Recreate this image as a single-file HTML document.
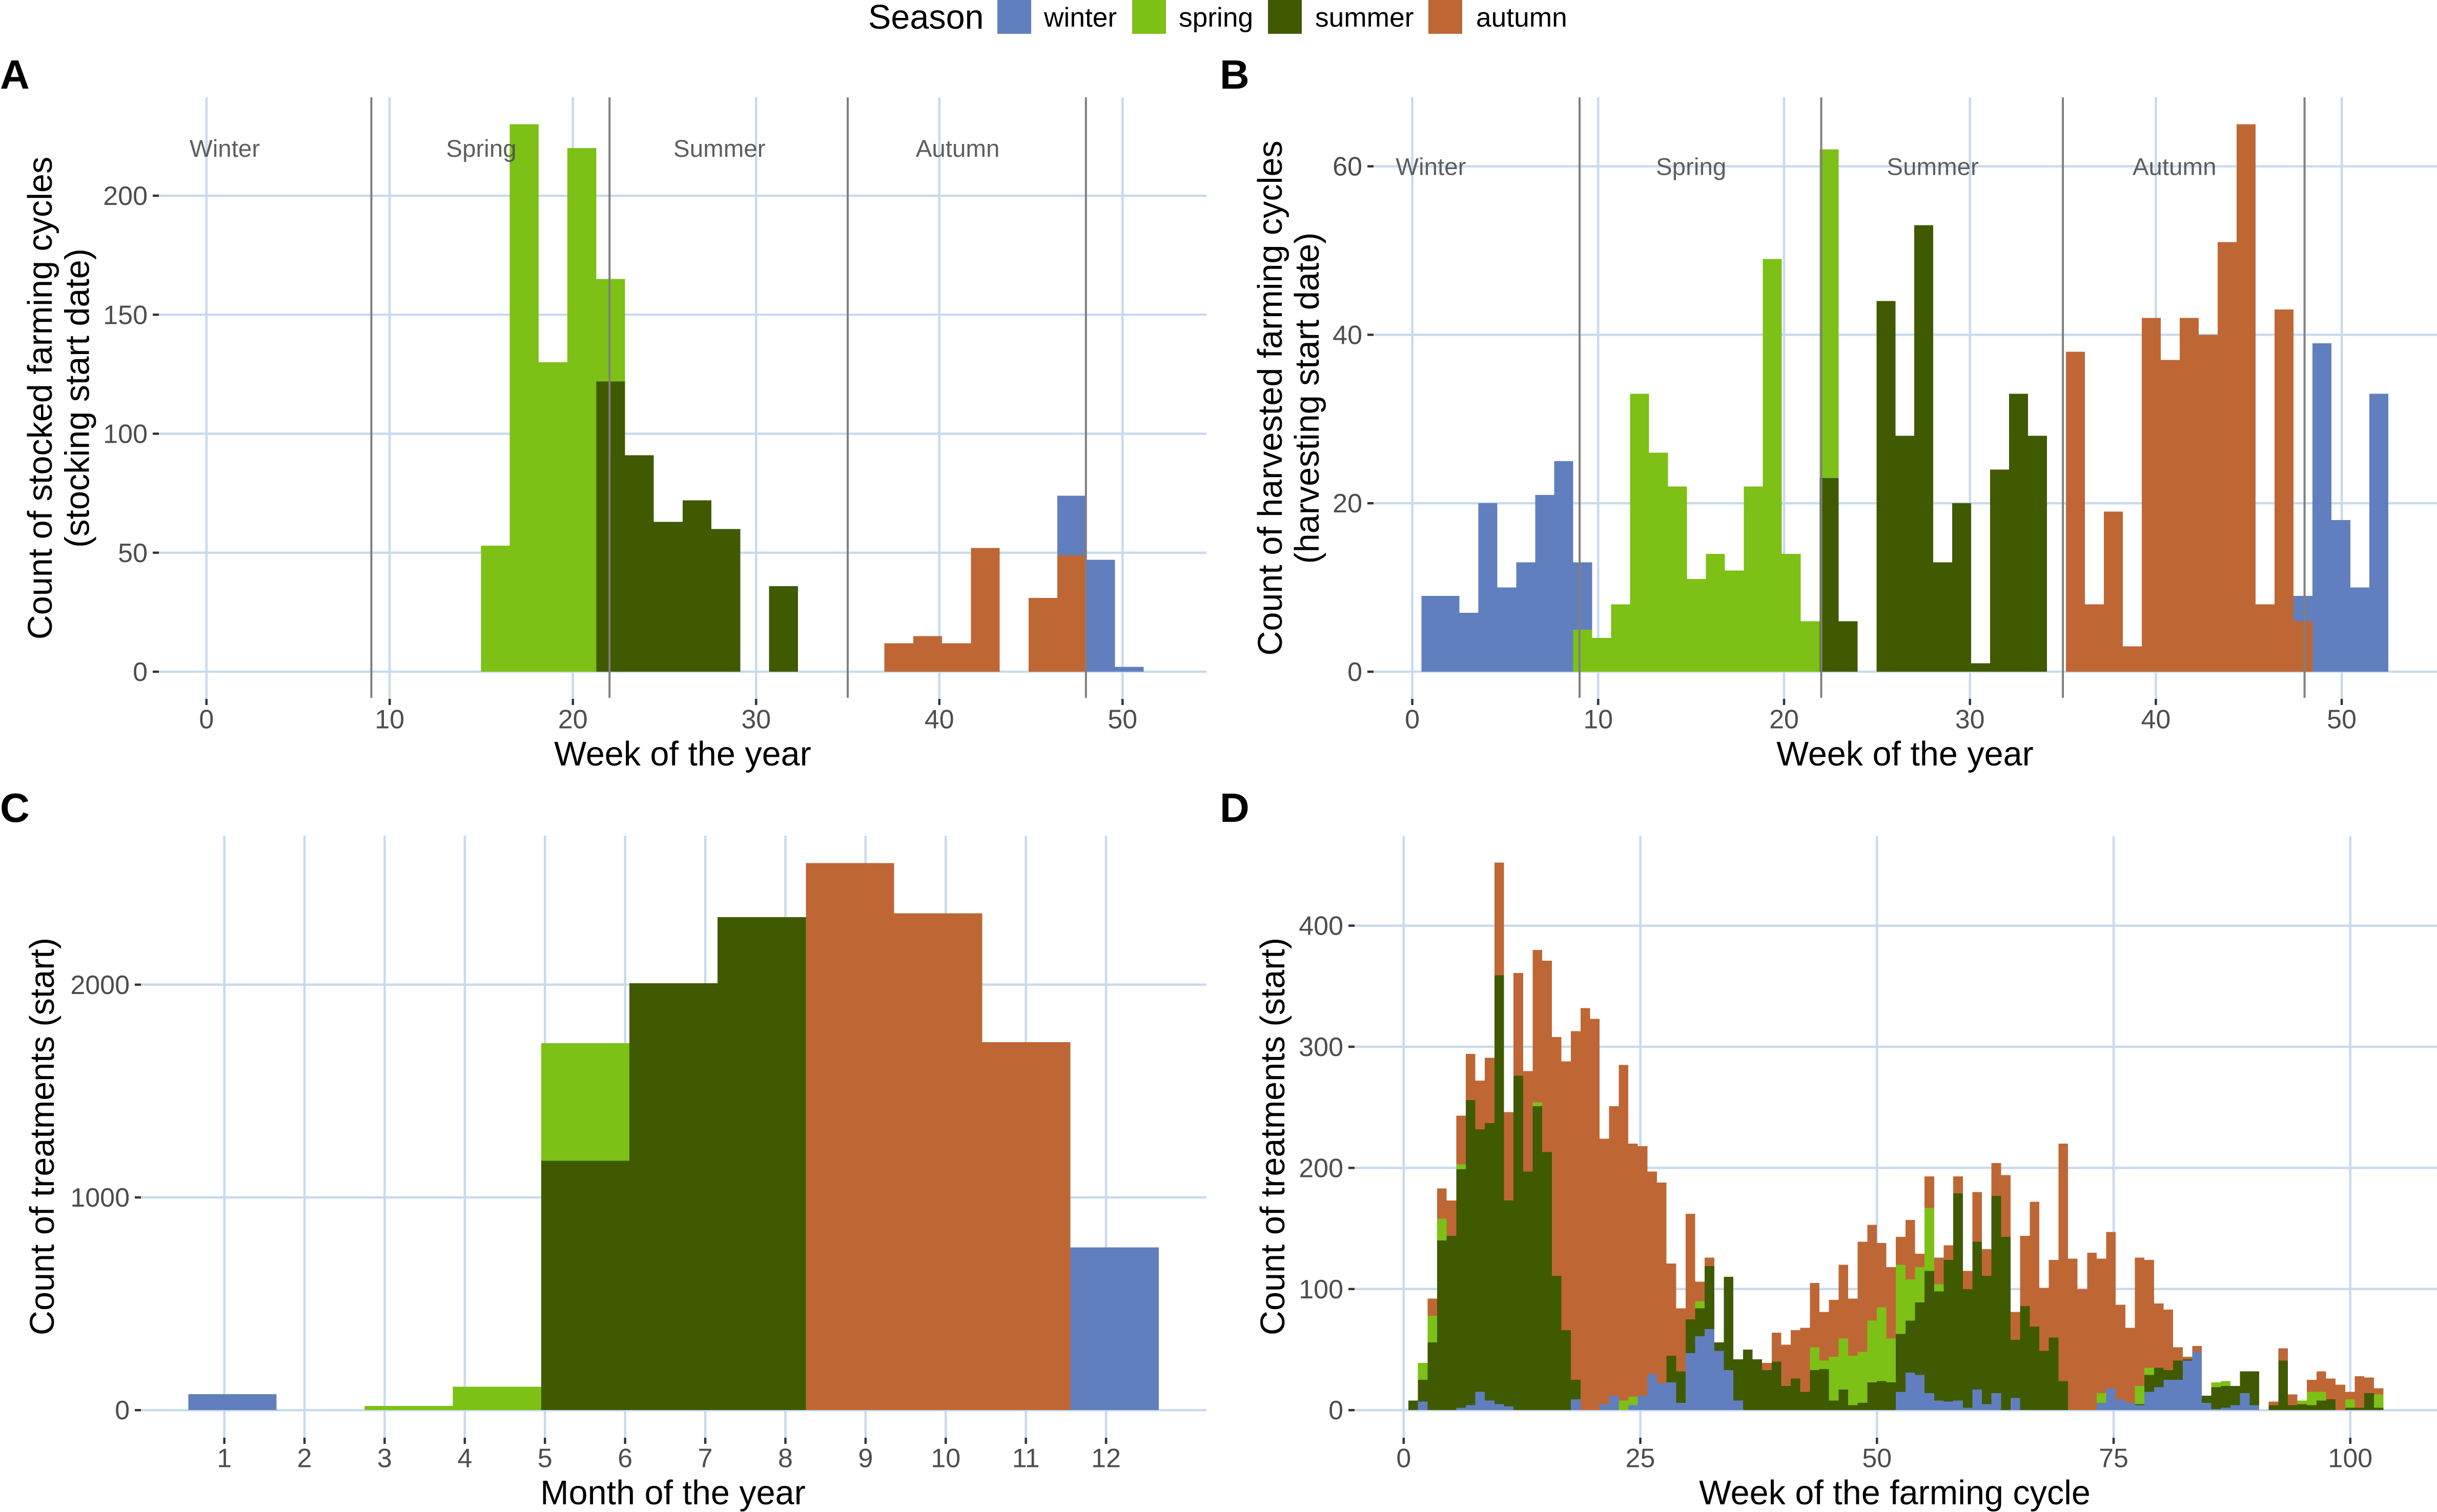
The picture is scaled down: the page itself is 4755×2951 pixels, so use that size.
<!DOCTYPE html>
<html lang="en">
<head>
<meta charset="utf-8">
<title>Farming cycles and treatments by season</title>
<style>
html,body{margin:0;padding:0;background:#fff;}
svg{display:block;font-family:"Liberation Sans",Arial,sans-serif;}
</style>
</head>
<body>
<svg id="chart" xmlns="http://www.w3.org/2000/svg" width="4755" height="2951" viewBox="0 0 4755 2951">
  <rect x="0" y="0" width="4755" height="2951" fill="#ffffff"/>
  <g id="legend">
    <text x="1694" y="56" font-size="66.5" fill="#000">Season</text>
    <rect x="1946" y="0" width="66" height="66" fill="#617FBE"/>
    <text x="2037" y="52" font-size="53.3" fill="#000">winter</text>
    <rect x="2209" y="0" width="66" height="66" fill="#7DC016"/>
    <text x="2300" y="52" font-size="53.3" fill="#000">spring</text>
    <rect x="2474" y="0" width="66" height="66" fill="#405A02"/>
    <text x="2566" y="52" font-size="53.3" fill="#000">summer</text>
    <rect x="2787" y="0" width="66" height="66" fill="#BE6735"/>
    <text x="2880" y="52" font-size="53.3" fill="#000">autumn</text>
  </g>
  <text x="0" y="173" font-size="80" font-weight="700">A</text>
  <text x="2380" y="173" font-size="80" font-weight="700">B</text>
  <text x="0" y="1604" font-size="80" font-weight="700">C</text>
  <text x="2380" y="1604" font-size="80" font-weight="700">D</text>

  <g id="panel-a"></g>
  <g id="panel-b"></g>
  <g id="panel-c"></g>
  <g id="panel-d"></g>

  <text x="1332" y="1494" font-size="66.5" text-anchor="middle">Week of the year</text>
  <text transform="translate(101,777) rotate(-90)" font-size="66.5" text-anchor="middle">Count of stocked farming cycles</text>
  <text transform="translate(173.5,777) rotate(-90)" font-size="66.5" text-anchor="middle">(stocking start date)</text>

  <text x="3717" y="1494" font-size="66.5" text-anchor="middle">Week of the year</text>
  <text transform="translate(2501,777) rotate(-90)" font-size="66.5" text-anchor="middle">Count of harvested farming cycles</text>
  <text transform="translate(2573,777) rotate(-90)" font-size="66.5" text-anchor="middle">(harvesting start date)</text>

  <text x="1313" y="2936" font-size="66.5" text-anchor="middle">Month of the year</text>
  <text transform="translate(105,2218) rotate(-90)" font-size="66.5" text-anchor="middle">Count of treatments (start)</text>

  <text x="3697" y="2936" font-size="66.5" text-anchor="middle">Week of the farming cycle</text>
  <text transform="translate(2506,2218) rotate(-90)" font-size="66.5" text-anchor="middle">Count of treatments (start)</text>
</svg>
<script>
// ---- Shared categories ----
const seasonLabels = ['Winter', 'Spring', 'Summer', 'Autumn'];
const seasonLabelWeeks = [1, 15, 28, 41];
const seasonBoundaryWeeks = [9, 22, 35, 48];

// ---- Panel A: stocked cycles per bin ----
const aXTicks = [0, 10, 20, 30, 40, 50];
const aYTicks = [0, 50, 100, 150, 200];
const aSpring = [53,230,130,220,43,0,0,0,0,0,0,0,0,0,0,0,0,0,0,0,0,0,0];
const aSummer = [0,0,0,0,122,91,63,72,60,0,36,0,0,0,0,0,0,0,0,0,0,0,0];
const aAutumn = [0,0,0,0,0,0,0,0,0,0,0,0,0,0,12,15,12,52,0,31,49,0,0];
const aWinter = [0,0,0,0,0,0,0,0,0,0,0,0,0,0,0,0,0,0,0,0,25,47,2];

// ---- Panel B: harvested cycles per bin ----
const bXTicks = [0, 10, 20, 30, 40, 50];
const bYTicks = [0, 20, 40, 60];
const bWinter = [9,9,7,20,10,13,21,25,8,0,0,0,0,0,0,0,0,0,0,0,0,0,0,0,0,0,0,0,0,0,0,0,0,0,0,0,0,0,0,0,0,0,0,0,0,0,3,39,18,10,33];
const bSpring = [0,0,0,0,0,0,0,0,5,4,8,33,26,22,11,14,12,22,49,14,6,39,0,0,0,0,0,0,0,0,0,0,0,0,0,0,0,0,0,0,0,0,0,0,0,0,0,0,0,0,0];
const bSummer = [0,0,0,0,0,0,0,0,0,0,0,0,0,0,0,0,0,0,0,0,0,23,6,0,44,28,53,13,20,1,24,33,28,0,0,0,0,0,0,0,0,0,0,0,0,0,0,0,0,0,0];
const bAutumn = [0,0,0,0,0,0,0,0,0,0,0,0,0,0,0,0,0,0,0,0,0,0,0,0,0,0,0,0,0,0,0,0,0,0,38,8,19,3,42,37,42,40,51,65,8,43,6,0,0,0,0];

// ---- Panel C: treatments per month bin ----
const cXTicks = [1,2,3,4,5,6,7,8,9,10,11,12];
const cYTicks = [0, 1000, 2000];
const cWinter = [75,0,0,0,0,0,0,0,0,0,765];
const cSpring = [0,0,20,110,553,0,0,0,0,0,0];
const cSummer = [0,0,0,0,1172,2007,2317,0,0,0,0];
const cAutumn = [0,0,0,0,0,0,0,2572,2336,1730,0];

// ---- Panel D: treatments per farming-cycle-week bin ----
const dXTicks = [0, 25, 50, 75, 100];
const dYTicks = [0, 100, 200, 300, 400];
const dWinter = [0,7,0,0,0,2,4,15,8,5,3,0,0,0,0,0,0,9,0,0,5,12,0,4,12,30,22,23,6,47,61,67,49,33,8,0,0,0,0,0,0,0,0,0,0,0,0,0,0,0,0,15,31,29,14,8,7,8,2,17,5,14,0,10,0,0,0,0,0,0,0,0,6,18,9,6,4,15,19,25,25,41,48,6,1,2,4,14,4,0,0,0,0,0,0,0,0,0,0,0,0,0];
const dSummer = [8,18,56,140,144,197,252,217,229,354,170,276,197,251,213,111,66,16,0,0,0,0,0,0,0,0,0,22,26,28,23,52,7,77,34,50,42,33,40,20,26,15,33,34,8,17,4,6,23,24,23,48,43,60,101,90,117,171,98,122,106,163,143,48,86,69,49,60,24,0,0,0,0,0,0,0,1,14,16,8,16,1,0,6,18,18,16,18,28,0,4,41,4,5,4,8,9,0,2,2,14,2];
const dSpring = [0,14,22,18,0,4,0,0,0,0,0,0,0,3,0,0,0,0,0,0,0,0,8,7,0,0,0,0,0,0,6,0,0,0,0,0,0,0,0,0,0,0,19,7,36,42,41,42,51,61,36,57,34,29,52,6,0,0,0,0,0,0,0,0,0,0,0,0,0,0,0,0,8,0,0,0,15,6,0,0,0,0,0,0,4,4,0,0,0,0,0,0,0,3,11,7,0,0,7,0,0,11];
const dAutumn = [0,0,14,25,29,40,38,40,54,93,73,85,83,126,158,197,222,288,332,323,219,239,277,209,206,167,166,76,52,87,16,7,0,0,0,0,0,6,24,34,40,53,53,40,47,61,47,91,79,53,59,23,49,11,26,22,12,14,15,41,22,27,51,23,58,103,52,64,196,125,100,130,111,129,78,62,106,89,53,50,11,2,5,0,0,0,0,0,0,0,3,10,9,0,10,17,17,21,6,26,13,5];

const COLORS = {winter:'#617FBE', spring:'#7DC016', summer:'#405A02', autumn:'#BE6735'};
const GRID = '#C8DAEE';
const SVGNS = 'http://www.w3.org/2000/svg';

function make(tag, attrs, parent, text) {
  const n = document.createElementNS(SVGNS, tag);
  for (const k in attrs) n.setAttribute(k, attrs[k]);
  if (text !== undefined) n.textContent = text;
  parent.appendChild(n);
  return n;
}

function drawPanel(cfg) {
  const root = document.getElementById(cfg.id);
  const x = v => cfg.x0 + v * cfg.xUnit;
  const y = v => cfg.y0 - v * cfg.yUnit;

  // gridlines
  cfg.yTicks.forEach(t => {
    const g = make('line', {x1: cfg.gridLeft, x2: cfg.right, y1: y(t), y2: y(t), stroke: GRID, 'stroke-width': 4.5}, root);
    
    
  });
  cfg.xTicks.forEach(t => {
    const g = make('line', {x1: x(t), x2: x(t), y1: cfg.top, y2: cfg.bottom, stroke: GRID, 'stroke-width': 4.5}, root);
    
    
  });

  // stacked bars
  const bins = cfg.series[0].values.length;
  for (let i = 0; i < bins; i++) {
    let base = 0;
    const left = x(cfg.binStart + i * cfg.binWidth);
    const right = x(cfg.binStart + (i + 1) * cfg.binWidth);
    cfg.series.forEach(s => {
      const v = s.values[i];
      if (v > 0) {
        const r = make('rect', {x: left, width: right - left, y: y(base + v), height: y(base) - y(base + v), fill: COLORS[s.name], 'shape-rendering': 'crispEdges'}, root);
        
        
      }
      base += v;
    });
  }

  // season boundaries and labels
  if (cfg.seasonY !== undefined) {
    seasonBoundaryWeeks.forEach(w => {
      const l = make('line', {x1: x(w), x2: x(w), y1: cfg.top, y2: cfg.bottom - 2, stroke: '#7f7f7f', 'stroke-width': 4}, root);
      
      
    });
    seasonLabels.forEach((name, i) => {
      const t = make('text', {x: x(seasonLabelWeeks[i]), y: y(cfg.seasonY) + 17, 'font-size': 47.5, 'text-anchor': 'middle', fill: '#4d4d4d', 'fill-opacity': 0.9}, root, name);
      
      
    });
  }

  // ticks and tick labels
  cfg.yTicks.forEach(t => {
    const m = make('line', {x1: cfg.gridLeft - 12, x2: cfg.gridLeft, y1: y(t), y2: y(t), stroke: '#333', 'stroke-width': 4.5}, root);
    
    
    const lb = make('text', {x: cfg.gridLeft - 22, y: y(t) + 18, 'font-size': 52, 'text-anchor': 'end', fill: '#4d4d4d'}, root, String(t));
    
    
  });
  cfg.xTicks.forEach(t => {
    const m = make('line', {x1: x(t), x2: x(t), y1: cfg.bottom, y2: cfg.bottom + 12, stroke: '#333', 'stroke-width': 4.5}, root);
    
    
    const lb = make('text', {x: x(t), y: cfg.bottom + 57.5, 'font-size': 52, 'text-anchor': 'middle', fill: '#4d4d4d'}, root, String(t));
    
    
  });
}

drawPanel({
  id: 'panel-a', x0: 402.8, xUnit: 35.75, y0: 1311, yUnit: 4.645,
  top: 190, bottom: 1364, gridLeft: 310, right: 2354,
  binStart: 14.98, binWidth: 1.573, seasonY: 220,
  xTicks: aXTicks, yTicks: aYTicks,
  series: [{name:'autumn', values:aAutumn}, {name:'summer', values:aSummer}, {name:'spring', values:aSpring}, {name:'winter', values:aWinter}]
});
drawPanel({
  id: 'panel-b', x0: 2755.6, xUnit: 36.27, y0: 1311, yUnit: 16.44,
  top: 190, bottom: 1364, gridLeft: 2680, right: 4755,
  binStart: 0.5, binWidth: 1.0196, seasonY: 60,
  xTicks: bXTicks, yTicks: bYTicks,
  series: [{name:'autumn', values:bAutumn}, {name:'summer', values:bSummer}, {name:'spring', values:bSpring}, {name:'winter', values:bWinter}]
});
drawPanel({
  id: 'panel-c', x0: 281.3, xUnit: 156.4, y0: 2752.2, yUnit: 0.4152,
  top: 1631, bottom: 2806, gridLeft: 275, right: 2354,
  binStart: 0.55, binWidth: 1.1006,
  xTicks: cXTicks, yTicks: cYTicks,
  series: [{name:'autumn', values:cAutumn}, {name:'summer', values:cSummer}, {name:'spring', values:cSpring}, {name:'winter', values:cWinter}]
});
drawPanel({
  id: 'panel-d', x0: 2738.8, xUnit: 18.47, y0: 2752.2, yUnit: 2.364,
  top: 1632, bottom: 2806, gridLeft: 2643, right: 4755,
  binStart: 0.5, binWidth: 1.0098,
  xTicks: dXTicks, yTicks: dYTicks,
  series: [{name:'winter', values:dWinter}, {name:'summer', values:dSummer}, {name:'spring', values:dSpring}, {name:'autumn', values:dAutumn}]
});
</script>
</body>
</html>
